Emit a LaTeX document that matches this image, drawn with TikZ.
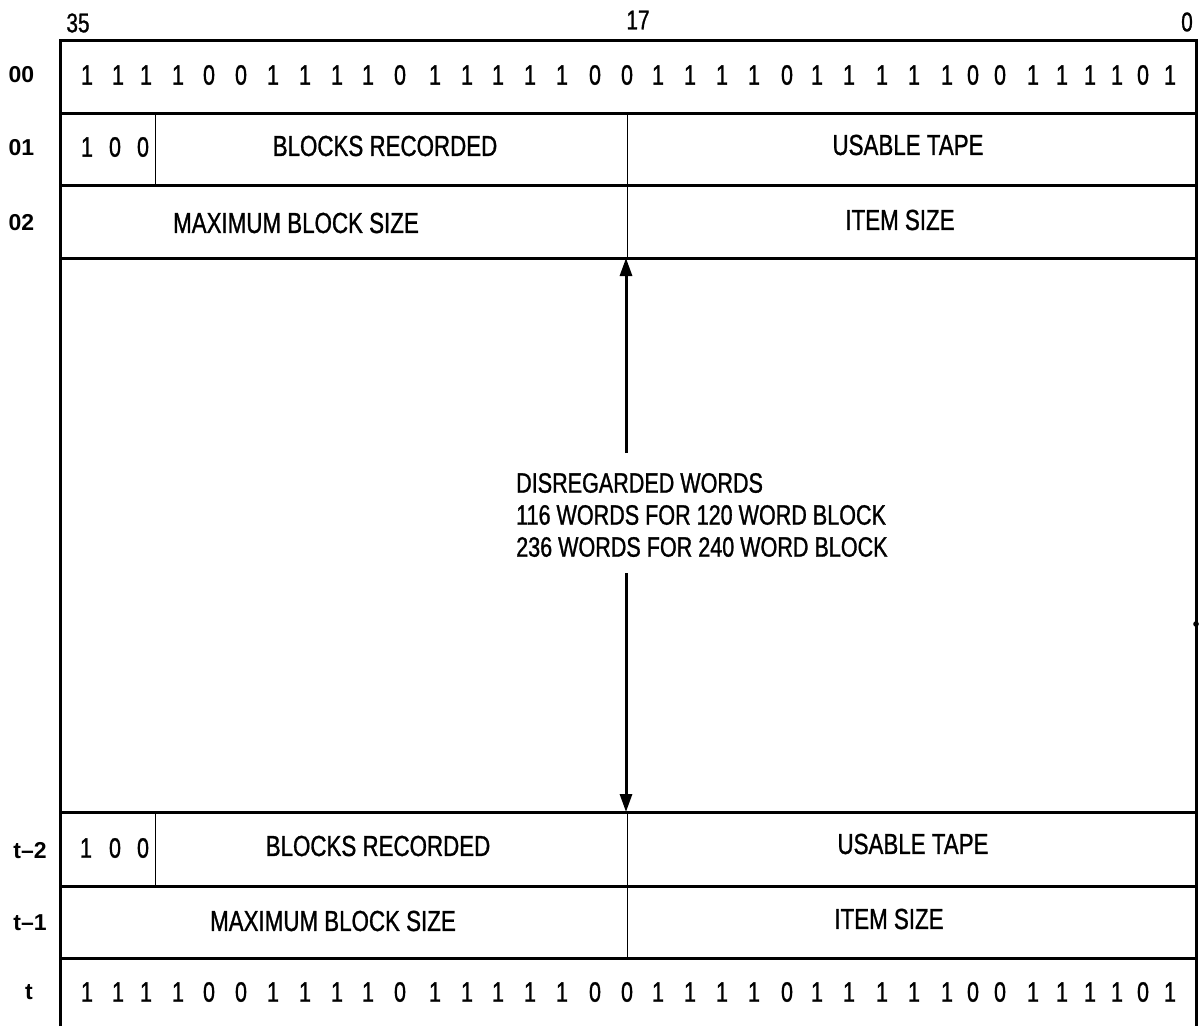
\documentclass[tikz,border=0pt]{standalone}
\usepackage{fontspec}
\setmainfont{Liberation Sans}[FakeStretch=0.77,FakeBold=1]
\newfontfamily\tagfont{Liberation Sans}
\usetikzlibrary{arrows.meta}

\begin{document}
\begin{tikzpicture}[x=1pt,y=-1pt,
  frame/.style={line width=3pt, line join=miter},
  divider/.style={line width=1pt},
  field/.style={font=\fontsize{29}{32}\selectfont, inner sep=0pt},
  bitcell/.style={font=\fontsize{28}{30}\selectfont, inner sep=0pt},
  rowtag/.style={font=\tagfont\bfseries\fontsize{23}{26}\selectfont, inner sep=0pt},
  coltag/.style={font=\fontsize{27}{30}\selectfont, inner sep=0pt},
  note/.style={font=\fontsize{28}{30}\selectfont, inner sep=0pt, anchor=west},
  span/.style={line width=3pt, -{Triangle[length=18pt,width=12pt]}}
]
\useasboundingbox (0,0) rectangle (1204,1026);

% corners of the frame
\coordinate (tl) at (60,40);
\coordinate (tr) at (1196,40);
\coordinate (bl) at (60,1026);
\coordinate (br) at (1196,1026);

% outer frame (open at the bottom) and the word boundaries
\draw[frame] (bl) -- (tl) -- (tr) -- (br);
\foreach \y in {113,185,258,812,886,958}
  \draw[frame] (60,\y) -- (1196,\y);

% bit 17 boundary and the flag field boundary
\draw[divider] (627,113) -- (627,258);
\draw[divider] (627,812) -- (627,958);
\draw[divider] (155,113) -- (155,185);
\draw[divider] (155,812) -- (155,886);

% small mark on the right edge
\fill (1196,624) circle (2.8pt);

% column numbers
\node[coltag] (c35) at (78,23) {35};
\node[coltag] (c17) at (638,20) {17};
\node[coltag] (c0)  at (1187,22) {0};

% row tags
\node[rowtag] (w00) at (21.5,75) {00};
\node[rowtag] (w01) at (21.5,148) {01};
\node[rowtag] (w02) at (21.5,223) {02};
\node[rowtag] (wt2) at (30,851) {t\textendash2};
\node[rowtag] (wt1) at (30,923) {t\textendash1};
\node[rowtag] (wt)  at (29,992) {t};

% label words (first and last)
\foreach \x/\b [count=\i] in {87/1,118/1,146/1,178/1,209/0,241/0,273/1,305/1,337/1,368/1,
    400/0,435/1,467/1,498/1,530/1,562/1,595/0,627/0,658/1,690/1,722/1,754/1,787/0,
    817/1,849/1,882/1,914/1,947/1,973/0,1000/0,1033/1,1062/1,1090/1,1117/1,1143/0,1170/1}
{
  \node[bitcell] (first\i) at (\x,75) {\b};
  \node[bitcell] (last\i) at (\x,992) {\b};
}

% header words
\node[bitcell] (fa1) at (87,147) {1};
\node[bitcell] (fa2) at (115,147) {0};
\node[bitcell] (fa3) at (143,147) {0};
\node[field] (br1) at (385,146) {BLOCKS RECORDED};
\node[field] (ut1) at (908,145) {USABLE TAPE};
\node[field] (mb1) at (296,223) {MAXIMUM BLOCK SIZE};
\node[field] (is1) at (900,220) {ITEM SIZE};

\node[bitcell] (fb1) at (86,848) {1};
\node[bitcell] (fb2) at (115,848) {0};
\node[bitcell] (fb3) at (143,848) {0};
\node[field] (br2) at (378,846) {BLOCKS RECORDED};
\node[field] (ut2) at (913,844) {USABLE TAPE};
\node[field] (mb2) at (333,921) {MAXIMUM BLOCK SIZE};
\node[field] (is2) at (889,919) {ITEM SIZE};

% disregarded region
\node[note] (dw1) at (516,483) {DISREGARDED WORDS};
\node[note] (dw2) at (516,515) {116 WORDS FOR 120 WORD BLOCK};
\node[note] (dw3) at (516,547) {236 WORDS FOR 240 WORD BLOCK};

\coordinate (uptail) at (626,453);
\coordinate (uphead) at (626,258);
\coordinate (dntail) at (626,573);
\coordinate (dnhead) at (626,812);
\draw[span] (uptail) -- (uphead);
\draw[span] (dntail) -- (dnhead);
\end{tikzpicture}
\end{document}
